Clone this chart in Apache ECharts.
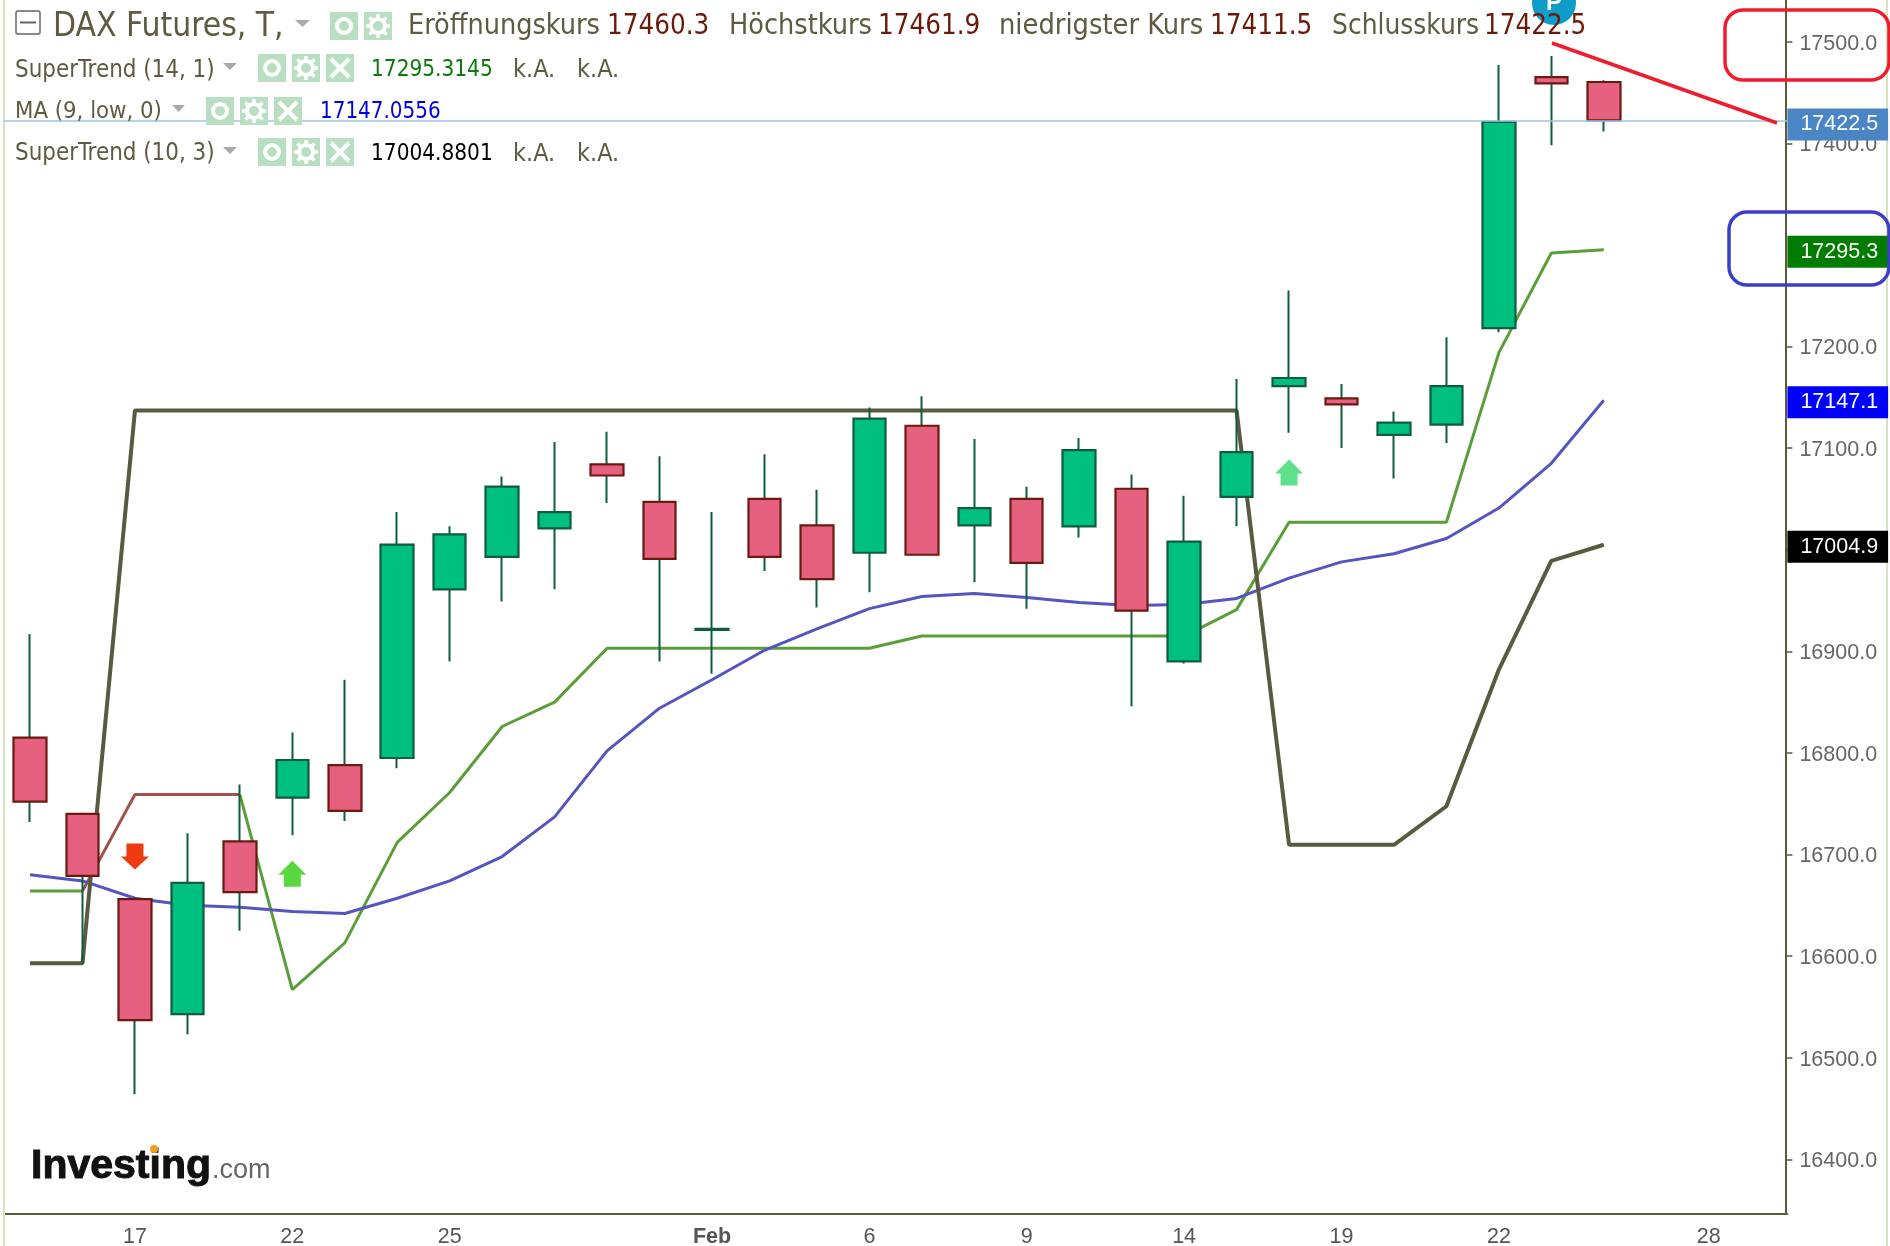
<!DOCTYPE html>
<html><head><meta charset="utf-8">
<style>html,body{margin:0;padding:0;background:#fff}#c{width:1890px;height:1246px}</style>
<script src="https://cdn.jsdelivr.net/npm/echarts@6/dist/echarts.min.js"></script>
</head><body><div id="c"></div>
<script>
const categories = ['','','17','','','22','','','25','','','','','Feb','','','6','','','9','','','14','','','19','','','22','','','','28',''];
const yTicks = [16400,16500,16600,16700,16800,16900,17000,17100,17200,17400,17500];
// open, close, low, high
const ohlc = [
[16815,16752,16732,16917],[16740,16679,16593,16740],[16656,16537,16464,16658],[16543,16672,16523,16721],
[16713,16663,16625,16769],[16756,16793,16719,16820],[16788,16743,16733,16872],[16795,17005,16785,17037],
[16961,17015,16890,17023],[16993,17062,16949,17072],[17021,17037,16961,17106],[17084,17073,17046,17116],
[17047,16991,16890,17092],[16921,16922,16878,17037],[17050,16993,16979,17094],[17024,16971,16943,17059],
[16997,17129,16958,17140],[17122,16995,16995,17151],[17024,17041,16968,17109],[17050,16987,16942,17062],
[17023,17098,17012,17110],[17060,16940,16846,17074],[16890,17008,16888,17053],[17052,17096,17023,17168],
[17161,17169,17115,17255],[17149,17143,17100,17163],[17113,17125,17070,17136],[17123,17161,17105,17209],
[17218,17421,17214,17477],[17465,17459,17398,17486],[17460.3,17422.5,17411.5,17461.9]];
const superTrendFastUp = [16664,16664,null,null,16759,16567,16613,16712,16761,16826,16850,16903,16903,16903,16903,16903,16903,16915,16915,16915,16915,16915,16915,16941,17027,17027,17027,17027,17194,17292,17295.3];
const superTrendFastDown = [null,16664,16759,16759,16759];
const maLow = [16680,16674,16657,16650,16648,16644,16642,16657,16674,16698,16737,16802,16844,16872,16901,16922,16942,16954,16957,16953,16948,16945,16946,16952,16972,16988,16996,17011,17041,17085,17147.1];
const superTrendSlow = [16593,16593,17137,17137,17137,17137,17137,17137,17137,17137,17137,17137,17137,17137,17137,17137,17137,17137,17137,17137,17137,17137,17137,17137,16709.5,16709.5,16709.5,16747.5,16882,16989,17004.9];
const arrowsDown = [[2,16698]];
const arrowsUp = [[5,16681]];
const arrowsUpLight = [[24,17076]];
const priceTags = [[17422.5,'#4a86c5'],[17295.3,'#007c00'],[17147.1,'#0000ff'],[17004.9,'#000000']];

const F = "'DejaVu Sans Condensed','DejaVu Sans',sans-serif", A = "'Liberation Sans',Arial,sans-serif";
const OL = '#5f5a40', BR = '#6b1a0a';
const headerTexts = [
 ['DAX Futures, T,',53,27,33.3,OL],['Eröffnungskurs',408,27,28.5,OL],['17460.3',607,27,27.5,BR],
 ['Höchstkurs',729,27,28.5,OL],['17461.9',878,27,27.5,BR],['niedrigster Kurs',999,27,28.7,OL],['17411.5',1210,27,27.5,BR],
 ['Schlusskurs',1332,27,27.8,OL],['17422.5',1484,27,27.5,BR],
 ['SuperTrend (14, 1)',15,70.5,23.9,OL],['17295.3145',371,70.5,22.4,'#0a7a0a'],['k.A.',513,70.5,25,OL],['k.A.',577,70.5,25,OL],
 ['MA (9, low, 0)',15,111.5,23.7,OL],['17147.0556',320,112.5,22.2,'#0000e0'],
 ['SuperTrend (10, 3)',15,154,23.9,OL],['17004.8801',371,154,22.4,'#000'],['k.A.',513,154,25,OL],['k.A.',577,154,25,OL]];

const g = [];
g.push({type:'rect',shape:{x:3,y:0,width:2,height:1246},style:{fill:'#d4e4bc'},z:1});
g.push({type:'rect',shape:{x:1886,y:0,width:2,height:1246},style:{fill:'#d4e4bc'},z:1});
g.push({type:'circle',shape:{cx:1554,cy:3,r:22},style:{fill:'#0e9cc8'},z:50});
g.push({type:'text',style:{x:1554,y:3,text:'P',fill:'#fff',font:"bold 24px "+A,align:'center',verticalAlign:'middle'},z:51});
headerTexts.forEach(t=>g.push({type:'text',style:{x:t[1],y:t[2],text:t[0],fill:t[4],font:t[3]+'px '+F,verticalAlign:'middle'},z:60}));
g.push({type:'rect',shape:{x:16,y:11,width:24,height:23,r:2},style:{fill:'#fff',stroke:'#666',lineWidth:1.5},z:60});
g.push({type:'line',shape:{x1:20,y1:22.5,x2:36,y2:22.5},style:{stroke:'#666',lineWidth:2},z:61});
function tri(x,y,w,h){g.push({type:'polygon',shape:{points:[[x,y],[x+w,y],[x+w/2,y+h]]},style:{fill:'#aaa'},z:60});}
tri(295,20,15,7);tri(223,63,14,7);tri(172,105,13,7);tri(223,147,14,7);
function btn(x,y,kind){
 g.push({type:'rect',shape:{x:x,y:y,width:28,height:28},style:{fill:'#b9dfc2'},z:60});
 const cx=x+14,cy=y+14;
 if(kind==='eye'){g.push({type:'circle',shape:{cx,cy,r:7},style:{fill:'none',stroke:'#fff',lineWidth:4},z:61});}
 if(kind==='gear'){
  g.push({type:'circle',shape:{cx,cy,r:7},style:{fill:'none',stroke:'#fff',lineWidth:4},z:61});
  for(let i=0;i<8;i++){const a=i*Math.PI/4;g.push({type:'line',shape:{x1:cx+8*Math.cos(a),y1:cy+8*Math.sin(a),x2:cx+12*Math.cos(a),y2:cy+12*Math.sin(a)},style:{stroke:'#fff',lineWidth:3.5},z:61});}
 }
 if(kind==='x'){
  g.push({type:'line',shape:{x1:x+5,y1:y+5,x2:x+23,y2:y+23},style:{stroke:'#fff',lineWidth:4},z:61});
  g.push({type:'line',shape:{x1:x+23,y1:y+5,x2:x+5,y2:y+23},style:{stroke:'#fff',lineWidth:4},z:61});
 }
}
btn(330,12,'eye');btn(364,12,'gear');
[[258,54],[206,97],[258,138]].forEach(p=>{btn(p[0],p[1],'eye');btn(p[0]+34,p[1],'gear');btn(p[0]+68,p[1],'x');});
g.push({type:'line',shape:{x1:1552,y1:43,x2:1777,y2:123},style:{stroke:'#f01c2c',lineWidth:3.5},z:70});
g.push({type:'rect',shape:{x:1725,y:10,width:164,height:70,r:18},style:{fill:'none',stroke:'#f01c2c',lineWidth:3.5},z:70});
g.push({type:'rect',shape:{x:1729,y:212,width:160,height:73,r:18},style:{fill:'none',stroke:'#3a3fc8',lineWidth:3.5},z:70});
g.push({type:'text',style:{x:31,y:1167,text:'Investing',fill:'#111',stroke:'#111',lineWidth:1,font:"bold 41px "+A,verticalAlign:'middle'},z:60});
g.push({type:'text',style:{x:212,y:1171,text:'.com',fill:'#666',font:"27px "+A,verticalAlign:'middle'},z:60});
g.push({type:'circle',shape:{cx:154,cy:1149,r:4},style:{fill:'#f0a020'},z:61});

const arrowUp='path://M14 0 L28 14 L22.5 14 L22.5 26 L5.5 26 L5.5 14 L0 14 Z';
const arrowDown='path://M5.5 0 L22.5 0 L22.5 13 L28 13 L14 26 L0 13 L5.5 13 Z';
const option = {
 animation:false, backgroundColor:'#fff',
 grid:{left:3.8,right:102.6,top:0,height:1214,containLabel:false,outerBoundsMode:'none'},
 graphic:g,
 xAxis:{type:'category',data:categories.map(c=>c==='Feb'?{value:c,textStyle:{fontWeight:'bold'}}:c),boundaryGap:true,
  axisLine:{lineStyle:{color:'#5c5a38',width:2}},
  axisTick:{alignWithLabel:true,length:7,lineStyle:{color:'#5c5a38',width:1.5},interval:(i,v)=>v!==''},
  axisLabel:{interval:(i,v)=>v!=='',color:'#555',fontFamily:A,fontSize:21.5,margin:12},splitLine:{show:false}},
 yAxis:{type:'value',position:'right',offset:-2,min:16346.2,max:17541,scale:true,
  axisLine:{show:true,onZero:false,lineStyle:{color:'#5c5a38',width:2}},
  axisTick:{show:true,length:7,lineStyle:{color:'#5c5a38',width:1.5},customValues:yTicks},
  axisLabel:{customValues:yTicks,margin:14,formatter:v=>'{a|'+v.toFixed(1)+'}',
   rich:{a:{color:'#666',fontFamily:A,fontSize:21.5,padding:[4,0,0,0]}}},
  splitLine:{show:false}},
 series:[
  {type:'line',name:'SuperTrend (14, 1)',data:superTrendFastUp,showSymbol:false,lineStyle:{color:'#5a9e3a',width:3},connectNulls:false,z:3,silent:true},
  {type:'line',name:'SuperTrend (14, 1) down',data:superTrendFastDown,showSymbol:false,lineStyle:{color:'#a0524a',width:3},z:3,silent:true},
  {type:'line',name:'MA (9, low, 0)',data:maLow,showSymbol:false,lineStyle:{color:'#5555c0',width:3},z:3,silent:true},
  {type:'line',name:'SuperTrend (10, 3)',data:superTrendSlow,showSymbol:false,lineStyle:{color:'#5a5a40',width:4},z:3,silent:true},
  {type:'candlestick',name:'wicks',data:ohlc.map(d=>[d[0],d[0],d[2],d[3]]),barWidth:2,z:4,silent:true,
   itemStyle:{color:'#0f5c40',color0:'#0f5c40',borderColor:'#0f5c40',borderColor0:'#0f5c40',borderColorDoji:'#0f5c40',borderWidth:2}},
  {type:'candlestick',name:'DAX Futures',data:ohlc.map(d=>[d[0],d[1],Math.min(d[0],d[1]),Math.max(d[0],d[1])]),barWidth:33,z:5,silent:true,
   itemStyle:{color:'#00c080',color0:'#e6607f',borderColor:'#0f5c40',borderColor0:'#6b1a10',borderWidth:2.2},
   markLine:{silent:true,symbol:'none',animation:false,precision:1,z:8,
    data:priceTags.map((p,i)=>({yAxis:p[0],
     lineStyle:i===0?{color:'#9cc5ea',width:1.6,type:'solid'}:{color:'transparent',width:0},
     label:{show:true,position:'end',distance:0,offset:[0,i===0?4:2],formatter:String(p[0]),color:'#fff',fontFamily:A,fontSize:21.5,
      backgroundColor:p[1],padding:[5,10,5,13],lineHeight:22}}))}},
  {type:'scatter',data:arrowsDown,symbol:arrowDown,symbolSize:[28,26],itemStyle:{color:'#f03a10',opacity:1},z:6,silent:true},
  {type:'scatter',data:arrowsUp,symbol:arrowUp,symbolSize:[28,26],itemStyle:{color:'#58d83e',opacity:1},z:6,silent:true},
  {type:'scatter',data:arrowsUpLight,symbol:arrowUp,symbolSize:[28,26],itemStyle:{color:'#5fe08a',opacity:1},z:6,silent:true}
 ]};
echarts.init(document.getElementById('c'),null,{renderer:'canvas'}).setOption(option);
</script></body></html>
